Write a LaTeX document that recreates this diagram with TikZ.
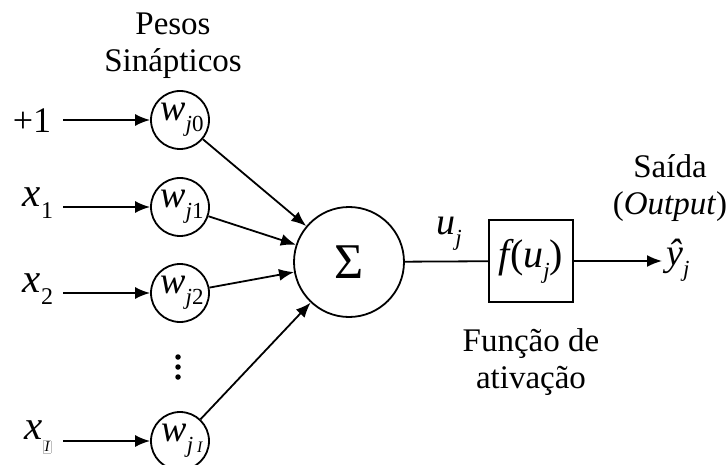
\documentclass[tikz,border=0pt]{standalone}
\usepackage{fontspec}
\setmainfont{Liberation Serif}
\usetikzlibrary{arrows.meta}
\newcommand\wlab[1]{{\fontsize{38}{38}\selectfont\itshape w}\raisebox{-11pt}{\fontsize{23}{23}\selectfont\itshape j\upshape #1}}
\newcommand\xlab[1]{{\fontsize{41}{41}\selectfont\itshape x}\raisebox{-12pt}{\fontsize{24}{24}\selectfont #1}}
\begin{document}
\begin{tikzpicture}[x=1pt,y=-1pt,
  wnode/.style={circle,draw,line width=1.8pt,minimum size=58pt,inner sep=0pt},
  arr/.style={-{Latex[length=15pt,width=12pt]},line width=1.8pt},
  ln/.style={line width=1.8pt},
  txt/.style={font=\fontsize{33}{37}\selectfont,align=center,inner sep=0pt},
  lbl/.style={inner sep=0pt},
  dot/.style={circle,fill,inner sep=0pt,minimum size=5.5pt}]
\useasboundingbox (0,0) rectangle (728,465);
% weight nodes
\node[wnode] (w0) at (180,120) {\hspace*{4pt}\wlab{0}};
\node[wnode] (w1) at (180,207) {\hspace*{4pt}\wlab{1}};
\node[wnode] (w2) at (180,293) {\hspace*{4pt}\wlab{2}};
\node[wnode] (wI) at (180,441) {\hspace*{4pt}{\fontsize{38}{38}\selectfont\itshape w}\raisebox{-11pt}{\fontsize{23}{23}\selectfont\itshape j\,{\fontsize{16}{16}\selectfont I}}};
\node[dot] (d1) at (178,357) {};
\node[dot] (d2) at (178,367) {};
\node[dot] (d3) at (178,377) {};
% input labels
\node[lbl] (p1) at (32,121) {\fontsize{36}{36}\selectfont +1};
\node[lbl] (x1) at (38,203) {\xlab{1}};
\node[lbl] (x2) at (38,289) {\xlab{2}};
\node[lbl] (xI) at (38,437) {{\fontsize{41}{41}\selectfont\itshape x}\raisebox{-12pt}{\setlength\fboxsep{1pt}\setlength\fboxrule{0.5pt}\fcolorbox{lightgray}{white}{\fontsize{15}{15}\selectfont\itshape I}}};
\coordinate (i0) at (63,120);
\coordinate (i1) at (63,207);
\coordinate (i2) at (63,293);
\coordinate (iI) at (63,441);
\draw[arr] (i0) -- (w0);
\draw[arr] (i1) -- (w1);
\draw[arr] (i2) -- (w2);
\draw[arr] (iI) -- (wI);
% sum
\node[circle,draw,line width=1.8pt,minimum size=110pt,inner sep=0pt] (sum) at (349,262) {\fontsize{50}{50}\selectfont Σ};
\draw[arr] (w0) -- (sum);
\draw[arr] (w1) -- (sum);
\draw[arr] (w2) -- (sum);
\draw[arr] (wI) -- (sum);
% activation
\node[draw,line width=1.8pt,minimum width=84pt,minimum height=82pt,inner sep=0pt] (f) at (531,261)
  {{\fontsize{40}{40}\selectfont\itshape f}{\fontsize{40}{40}\selectfont(\itshape u}\raisebox{-11pt}{\fontsize{23}{23}\selectfont\itshape j}{\fontsize{40}{40}\selectfont)}};
\draw[ln] (sum) -- (f);
\node[lbl] (u) at (449,234) {{\fontsize{38}{38}\selectfont\itshape u}\raisebox{-11pt}{\fontsize{23}{23}\selectfont\itshape j}};
\coordinate (yend) at (662,261);
\draw[arr] (f) -- (yend);
\node[lbl,anchor=west] (yh) at (666,260) {{\fontsize{38}{38}\selectfont\itshape \^y}\raisebox{-11pt}{\fontsize{23}{23}\selectfont\itshape j}};
% texts
\node[txt] (pesos) at (173,46) {Pesos\\Sinápticos};
\node[txt] (ativ) at (531,362) {Função de\\ativação};
\node[txt] (said) at (670,188) {Saída\\(\textit{Output})};
\end{tikzpicture}
\end{document}
